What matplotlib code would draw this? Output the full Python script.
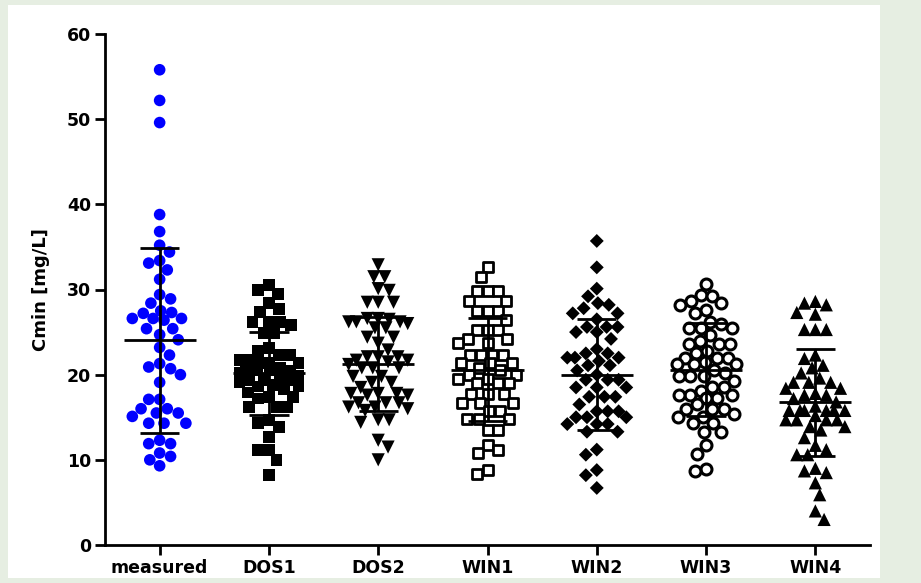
import numpy as np
import matplotlib.pyplot as plt
from matplotlib.patches import Rectangle

# values (Cmin, mg/L)
categories = ["measured", "DOS1", "DOS2", "WIN1", "WIN2", "WIN3", "WIN4"]

measured = [55.8, 52.2, 49.6, 38.8, 36.8, 35.2, 34.4, 33.4, 33.1, 32.3, 31.2, 29.4,
            28.9, 28.4, 27.5, 27.3, 27.2, 26.6, 26.6, 26.6, 26.4, 25.4, 25.4, 24.7,
            24.1, 23.2, 22.3, 21.3, 20.9, 20.7, 20.0, 19.1, 17.1, 17.1, 16.0, 16.0,
            15.5, 15.5, 15.1, 14.3, 14.3, 14.3, 12.3, 11.9, 11.9, 10.8, 10.4, 10.0, 9.3]
dos1 = [30.5, 29.9, 29.5, 28.4, 27.7, 27.4, 26.2, 26.2, 26.2, 25.8, 24.9, 24.9, 23.1,
        22.8, 22.3, 22.3, 21.7, 21.7, 21.4, 21.4, 21.4, 20.8, 20.5, 20.5, 20.5, 20.5,
        20.2, 19.9, 19.7, 19.4, 19.4, 19.4, 19.1, 18.8, 18.6, 18.6, 18.3, 17.9, 17.4,
        17.4, 17.2, 16.2, 16.2, 16.2, 14.7, 14.3, 13.9, 12.7, 11.2, 11.2, 10.0, 8.2]
dos2 = [32.9, 31.5, 31.5, 30.1, 29.9, 28.5, 28.5, 28.5, 26.6, 26.6, 26.5, 26.2, 26.2,
        26.2, 26.0, 25.5, 25.5, 24.4, 24.4, 23.7, 22.9, 22.1, 22.1, 22.1, 21.7, 21.7,
        21.5, 21.2, 20.8, 20.8, 20.8, 19.8, 19.8, 19.1, 19.1, 18.5, 17.8, 17.8, 17.8,
        17.6, 17.6, 16.7, 16.7, 16.7, 16.2, 16.2, 16.0, 15.8, 14.7, 14.7, 14.4, 12.3,
        11.5, 10.0]
win1 = [32.7, 31.5, 29.8, 29.8, 29.8, 28.6, 28.6, 27.5, 27.5, 27.5, 26.4, 25.2, 25.2,
        25.2, 24.2, 24.2, 23.7, 23.7, 22.3, 22.3, 22.3, 22.3, 21.4, 21.4, 21.4, 20.8,
        20.5, 20.0, 20.0, 19.5, 19.5, 19.0, 19.0, 19.0, 17.7, 17.7, 17.7, 16.7, 16.7,
        16.7, 15.7, 15.7, 14.8, 14.8, 14.8, 13.5, 13.5, 11.7, 11.2, 10.8, 8.8, 8.3]
win2 = [35.7, 32.6, 30.1, 29.2, 28.4, 28.2, 27.8, 27.2, 27.2, 26.5, 25.6, 25.6, 25.6,
        25.0, 25.0, 24.2, 23.0, 22.5, 22.5, 22.0, 22.0, 22.0, 21.6, 21.1, 21.1, 20.5,
        20.0, 19.4, 19.4, 19.4, 18.5, 18.5, 18.5, 17.4, 17.4, 17.4, 16.5, 15.7, 15.7,
        15.7, 15.0, 15.0, 15.0, 14.2, 14.2, 14.2, 13.3, 13.3, 11.2, 10.6, 8.8, 8.2, 6.7]
win3 = [30.7, 29.4, 29.2, 28.6, 28.4, 28.2, 27.6, 27.2, 26.2, 26.0, 25.5, 25.5, 25.5,
        24.6, 24.0, 23.6, 23.6, 23.6, 22.8, 22.5, 22.0, 22.0, 22.0, 21.5, 21.2, 21.2,
        21.2, 20.5, 20.2, 19.8, 19.8, 19.8, 19.3, 18.6, 18.6, 18.1, 17.6, 17.6, 17.6,
        17.3, 17.3, 16.5, 16.0, 16.0, 16.0, 15.4, 15.0, 15.0, 14.3, 14.3, 13.3, 13.3,
        11.7, 10.7, 8.9, 8.7]
win4 = [28.6, 28.4, 28.2, 27.3, 27.1, 25.3, 25.3, 25.3, 22.3, 21.9, 21.1, 20.8, 20.2,
        19.6, 19.1, 19.1, 19.1, 18.4, 18.4, 17.8, 17.6, 17.6, 17.2, 16.8, 16.3, 15.8,
        15.8, 15.8, 15.8, 15.8, 15.8, 15.2, 14.7, 14.7, 14.7, 14.7, 13.9, 13.9, 13.5,
        12.6, 11.7, 11.2, 10.6, 10.6, 9.0, 8.7, 8.5, 7.3, 5.9, 4.0, 3.0]

# mean and mean +/- SD lines as drawn in the reference
means = [24.1, 20.2, 21.2, 20.6, 20.0, 20.6, 16.8]
sd_upper = [34.9, 25.0, 26.8, 26.6, 26.5, 26.1, 23.0]
sd_lower = [13.2, 15.3, 15.7, 14.6, 13.5, 15.1, 10.5]

data = [measured, dos1, dos2, win1, win2, win3, win4]

styles = [
    dict(marker="o", s=70, c="#0000ff", edgecolors="none"),
    dict(marker="s", s=72, c="black", edgecolors="none"),
    dict(marker="v", s=90, c="black", edgecolors="none"),
    dict(marker="s", s=62, facecolors="white", edgecolors="black", linewidths=2.0),
    dict(marker="D", s=50, c="black", edgecolors="none"),
    dict(marker="o", s=62, facecolors="white", edgecolors="black", linewidths=2.2),
    dict(marker="^", s=90, c="black", edgecolors="none"),
]


def swarm_offsets(vals, rx=0.05, ry=0.75, step=0.01, half=0.27):
    """beeswarm inside a fixed band; overlap allowed when the band is full"""
    vals = np.asarray(vals, float)
    offs = np.zeros(len(vals))
    placed = []
    grid = np.round(np.arange(-half, half + 1e-9, step), 3)
    for n, i in enumerate(np.argsort(-vals)):
        y = vals[i]
        side = 1 if n % 2 else -1
        cands = sorted(grid, key=lambda c: (abs(c), side * c))
        best, best_pen = 0.0, None
        for c in cands:
            pen = 0.0
            for px, py in placed:
                d = np.hypot((c - px) / (2 * rx), (y - py) / (2 * ry))
                if d < 1:
                    pen += 1 - d
            if pen == 0:
                best = c
                break
            if best_pen is None or pen < best_pen - 1e-9:
                best, best_pen = c, pen
        offs[i] = best
        placed.append((best, y))
    return offs


fig = plt.figure(figsize=(9.21, 5.83), dpi=100, facecolor="#e6eee2")
fig.patches.append(Rectangle((8 / 921, 5 / 583), 872 / 921, 573 / 583,
                             transform=fig.transFigure, facecolor="white",
                             edgecolor="none", zorder=-10))
ax = fig.add_axes([105 / 921, 38 / 583, 765 / 921, 511 / 583])
ax.set_zorder(1)
ax.set_facecolor("white")

for k, (vals, st) in enumerate(zip(data, styles)):
    x = k + swarm_offsets(vals)
    ax.scatter(x, vals, zorder=2, clip_on=False, **st)
    ax.hlines(means[k], k - 0.33, k + 0.33, color="black", lw=2, zorder=3)
    ax.vlines(k, sd_lower[k], sd_upper[k], color="black", lw=2, zorder=3)
    ax.hlines([sd_lower[k], sd_upper[k]], k - 0.18, k + 0.18, color="black",
              lw=2, zorder=3)

ax.set_xlim(-0.5, 6.5)
ax.set_ylim(0, 60)
ax.set_yticks(range(0, 61, 10))
ax.set_xticks(range(len(categories)))
ax.set_xticklabels(categories)
for sp in ["top", "right"]:
    ax.spines[sp].set_visible(False)
for sp in ["left", "bottom"]:
    ax.spines[sp].set_linewidth(2)
ax.tick_params(axis="both", width=2, length=7, labelsize=12.5, pad=3)
for lab in ax.get_xticklabels() + ax.get_yticklabels():
    lab.set_fontweight("bold")
ax.set_ylabel("Cmin [mg/L]", fontsize=13, fontweight="bold", labelpad=12)

plt.savefig("out.png", dpi=100, facecolor=fig.get_facecolor())
